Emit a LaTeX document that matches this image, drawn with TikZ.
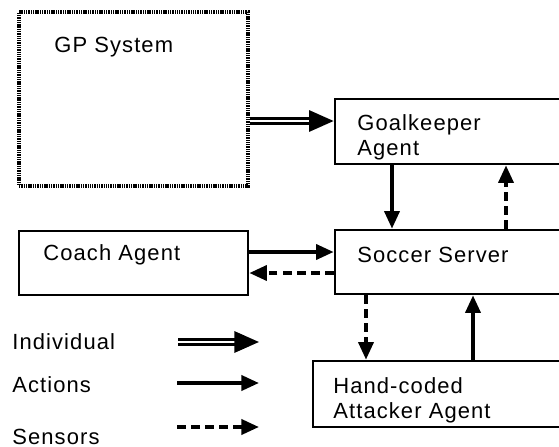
\documentclass[tikz,border=0pt]{standalone}
\usepackage{fontspec}
\setmainfont{Liberation Sans}[LetterSpace=5]
\usetikzlibrary{arrows.meta}

\begin{document}
\begin{tikzpicture}
[x=0.02cm,y=-0.02cm,
  boxdecorate/.style={shape=rectangle,draw,line width=1.5pt,inner sep=0pt},
  gpdecorate/.style={shape=rectangle,draw,line width=2.2pt,dash pattern=on 0.8pt off 0.5pt,inner sep=0pt},
  textdecorate/.style={anchor=west,align=left,inner sep=0pt,font=\fontsize{12.5}{14.2}\selectfont},
  individualline/.style={double,line width=1.6pt,double distance=1pt,-{Triangle[length=14pt,width=12pt]}},
  actionline/.style={line width=2.1pt,-{Triangle[length=10pt,width=8.5pt]}},
  sensorline/.style={line width=2.1pt,dash pattern=on 5pt off 3pt,-{Triangle[length=10pt,width=8.5pt]}}]
\useasboundingbox (0,0) rectangle (559,447);
\clip (0,0) rectangle (559,447);
%% boxes
\foreach \nodename/\decorate/\x/\y/\w/\h in {
  gp/gpdecorate/133.5/99/229/174, coach/boxdecorate/133.5/263/229/64,
  keeper/boxdecorate/450/131.5/230/65, server/boxdecorate/450/262/230/64,
  attacker/boxdecorate/439/394/252/66}
{
  \node (\nodename) at (\x,\y) [\decorate,minimum width=\w*0.02cm,minimum height=\h*0.02cm] {};
}
%% texts
\foreach \textname/\x/\y/\content in {
  gptext/54/47/{GP System}, coachtext/43/255/{Coach Agent},
  keepertext/357/137.5/{Goalkeeper\\Agent}, servertext/357/255/{Soccer Server},
  attackertext/333/400/{Hand-coded\\Attacker Agent},
  %% legend
  individual/12/342/{Individual}, actions/12/385/{Actions}, sensors/12/437/{Sensors}}
{
  \node (\textname) at (\x,\y) [textdecorate] {\content};
}
%% helper coordinates
\foreach \coordname/\x/\y in {
  rowgp/0/121, rowact/0/252, rowsen/0/273,
  colact/392/0, colsen/506/0, coldown/366/0, colup/473/0,
  indstart/178/342, indend/259/342, actstart/177/383, actend/259/383,
  senstart/177/427, senend/259/427}
{
  \coordinate (\coordname) at (\x,\y);
}
%% connectors
\path
\foreach \startnode/\endnode/\linestyle in {
  gp.east |- rowgp/keeper.west |- rowgp/individualline,
  coach.east |- rowact/server.west |- rowact/actionline,
  server.west |- rowsen/coach.east |- rowsen/sensorline,
  keeper.south -| colact/server.north -| colact/actionline,
  server.north -| colsen/keeper.south -| colsen/sensorline,
  server.south -| coldown/attacker.north -| coldown/sensorline,
  attacker.north -| colup/server.south -| colup/actionline,
  indstart/indend/individualline, actstart/actend/actionline,
  senstart/senend/sensorline}
{
  (\startnode) edge[\linestyle] (\endnode)
};
\end{tikzpicture}
\end{document}
